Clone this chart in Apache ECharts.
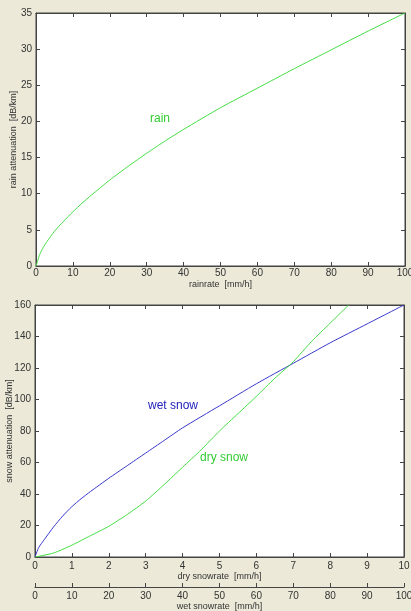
<!DOCTYPE html>
<html>
<head>
<meta charset="utf-8">
<script src="https://cdn.jsdelivr.net/npm/echarts@6/dist/echarts.min.js"></script>
<style>
  html, body { margin: 0; padding: 0; background: #ECE9D8; }
  #chart { width: 411px; height: 611px; }
</style>
</head>
<body>
<div id="chart"></div>
<script>
  // rain attenuation vs rainrate
  var rainRate = [0, 0.5, 1, 2, 3, 5, 7.5, 10, 12.5, 15, 20, 25, 30, 35, 40, 50, 60, 70, 80, 90, 100];
  var rainAtt  = [0, 0.8, 1.6, 2.6, 3.4, 4.8, 6.2, 7.5, 8.7, 9.8, 11.9, 13.8, 15.6, 17.3, 18.9, 21.9, 24.6, 27.3, 29.9, 32.5, 35];

  // dry snow (dry snowrate axis 0..10)
  var dryRate = [0, 0.5, 1, 1.5, 2, 2.5, 3, 3.5, 4, 4.5, 5, 5.5, 6, 6.5, 7, 7.5, 8, 8.5];
  var dryAtt  = [0, 2.5, 7.5, 13.5, 19.5, 27, 35.5, 46, 57, 68, 80, 91, 102, 113.5, 124, 137, 148.5, 160];

  // wet snow (wet snowrate axis 0..100)
  var wetRate = [0, 1, 2.5, 5, 7.5, 10, 12.5, 15, 20, 25, 30, 35, 40, 50, 60, 70, 80, 90, 100];
  var wetAtt  = [0, 6, 11, 19, 26, 32, 37, 41.5, 50, 58, 66, 74, 82, 96, 110, 123, 136, 148, 160];

  function pairs(xs, ys) {
    return xs.map(function (x, i) { return [x, ys[i]]; });
  }

  var font = 'Liberation Sans';
  var axisCol = '#444';
  var nameStyle = { color: '#333', fontSize: 9, fontFamily: font };

  function tickAxis(extra) {
    var base = {
      type: 'value',
      axisLine: { show: true, onZero: false, lineStyle: { color: axisCol, width: 1 } },
      axisTick: { show: true, inside: true, length: 4, lineStyle: { color: axisCol } },
      splitLine: { show: false },
      axisLabel: { color: '#333', fontSize: 10, fontFamily: font, margin: 4 },
      nameTextStyle: nameStyle,
      nameMoveOverlap: false
    };
    for (var k in extra) base[k] = extra[k];
    return base;
  }

  var chart = echarts.init(document.getElementById('chart'));

  chart.setOption({
    backgroundColor: '#ECE9D8',
    animation: false,
    grid: [
      { left: 36, top: 13, right: 6, height: 253, outerBoundsMode: 'none', containLabel: false,
        show: true, backgroundColor: '#fff', borderColor: axisCol, borderWidth: 1 },
      { left: 35, top: 305, right: 7, height: 252, outerBoundsMode: 'none', containLabel: false,
        show: true, backgroundColor: '#fff', borderColor: axisCol, borderWidth: 1 }
    ],
    xAxis: [
      tickAxis({ gridIndex: 0, position: 'bottom', min: 0, max: 100, interval: 10,
        name: 'rainrate  [mm/h]', nameLocation: 'middle', nameGap: 14,
        axisLabel: { color: '#333', fontSize: 10, fontFamily: font, margin: 2 } }),
      tickAxis({ gridIndex: 0, position: 'top', min: 0, max: 100, interval: 10,
        axisLabel: { show: false } }),
      tickAxis({ gridIndex: 1, position: 'bottom', min: 0, max: 10, interval: 1,
        name: 'dry snowrate  [mm/h]', nameLocation: 'middle', nameGap: 15 }),
      tickAxis({ gridIndex: 1, position: 'bottom', offset: 30, min: 0, max: 100, interval: 10,
        name: 'wet snowrate  [mm/h]', nameLocation: 'middle', nameGap: 15 }),
      tickAxis({ gridIndex: 1, position: 'top', min: 0, max: 10, interval: 1,
        axisLabel: { show: false } })
    ],
    yAxis: [
      tickAxis({ gridIndex: 0, position: 'left', min: 0, max: 35, interval: 5,
        name: 'rain attenuation  [dB/km]', nameLocation: 'middle', nameGap: 18 }),
      tickAxis({ gridIndex: 0, position: 'right', min: 0, max: 35, interval: 5,
        axisLabel: { show: false } }),
      tickAxis({ gridIndex: 1, position: 'left', min: 0, max: 160, interval: 20,
        name: 'snow attenuation  [dB/km]', nameLocation: 'middle', nameGap: 21 }),
      tickAxis({ gridIndex: 1, position: 'right', min: 0, max: 160, interval: 20,
        axisLabel: { show: false } })
    ],
    series: [
      {
        name: 'rain', type: 'line', xAxisIndex: 0, yAxisIndex: 0,
        data: pairs(rainRate, rainAtt), showSymbol: false, smooth: 0.2,
        lineStyle: { color: '#44dd44', width: 1 }
      },
      {
        name: 'wet snow', type: 'line', xAxisIndex: 3, yAxisIndex: 2,
        data: pairs(wetRate, wetAtt), showSymbol: false, smooth: 0.2,
        lineStyle: { color: '#3838cc', width: 1 }
      },
      {
        name: 'dry snow', type: 'line', xAxisIndex: 2, yAxisIndex: 2,
        data: pairs(dryRate, dryAtt), showSymbol: false, smooth: 0.2,
        lineStyle: { color: '#44dd44', width: 1 }
      }
    ],
    graphic: [
      { type: 'text', left: 150, top: 113,
        style: { text: 'rain', fill: '#33cc33', font: '12px ' + font } },
      { type: 'text', left: 148, top: 400,
        style: { text: 'wet snow', fill: '#2222bb', font: '12px ' + font } },
      { type: 'text', left: 200, top: 452,
        style: { text: 'dry snow', fill: '#33cc33', font: '12px ' + font } }
    ]
  });
</script>
</body>
</html>
